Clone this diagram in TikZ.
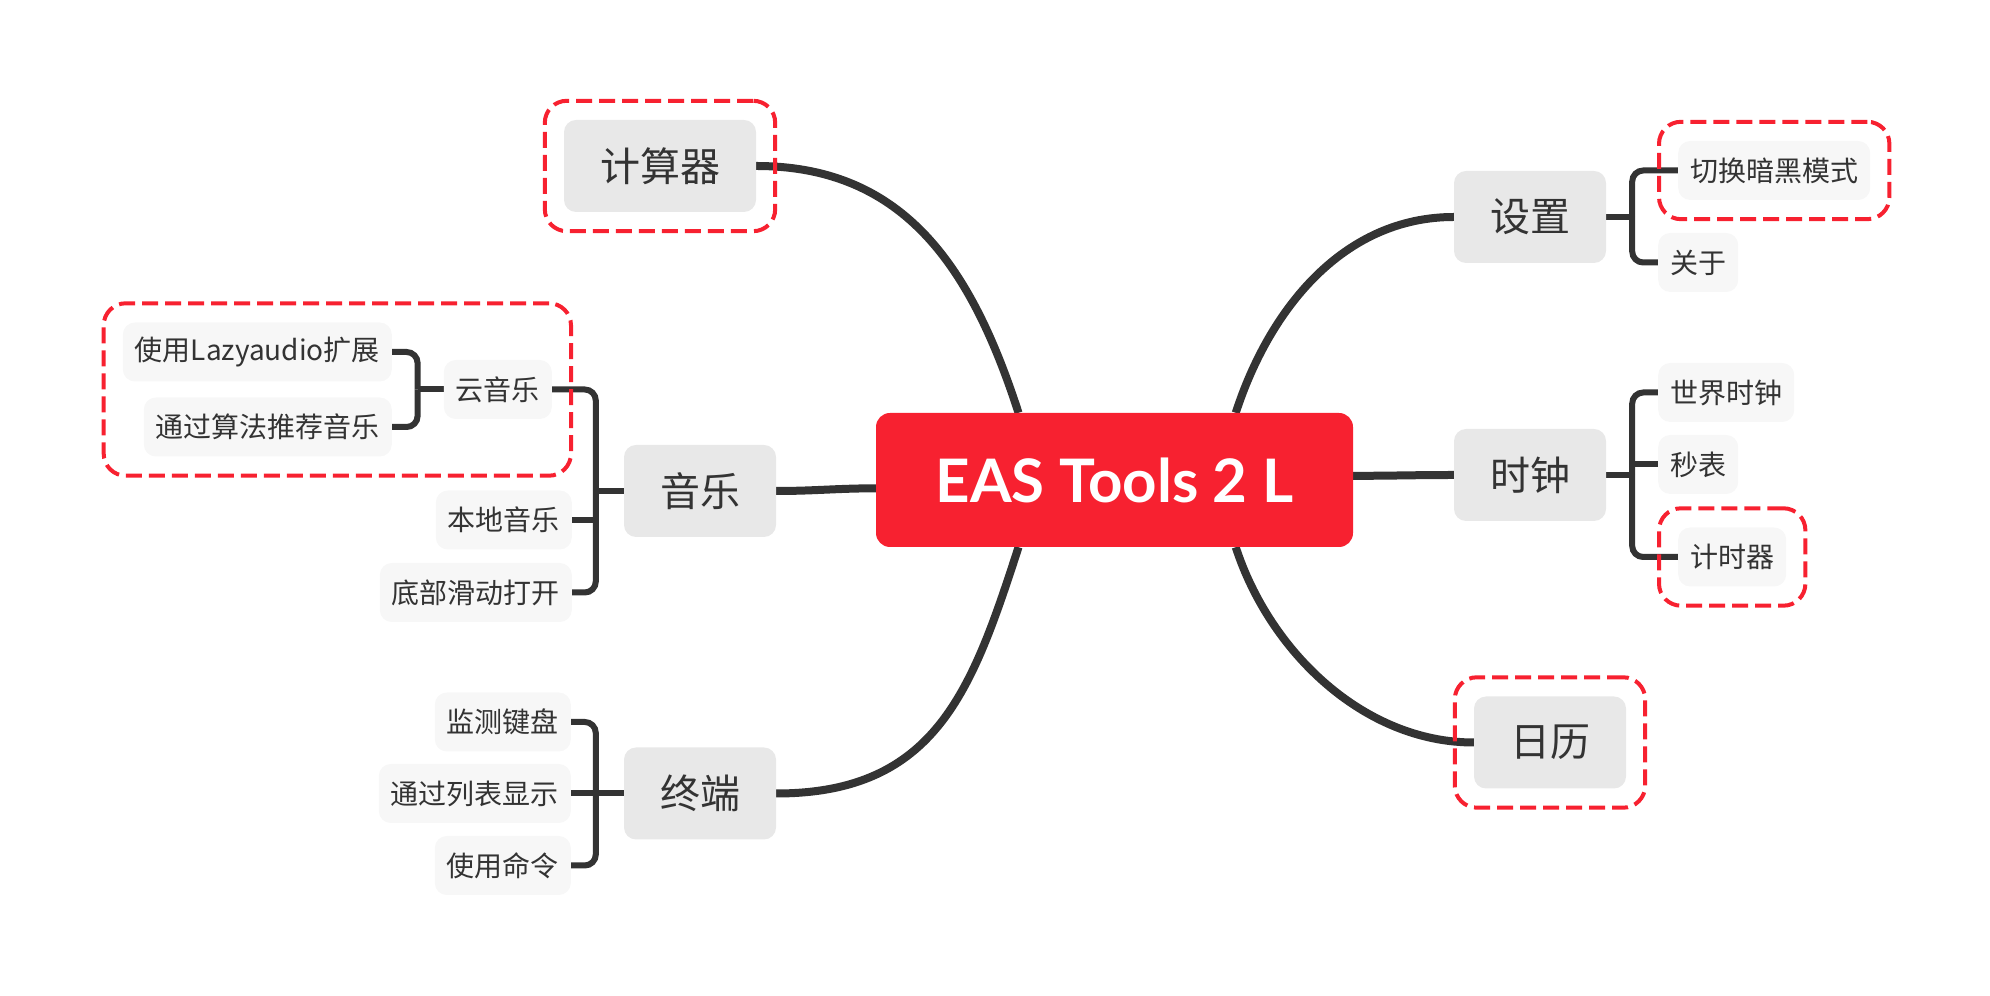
\documentclass[tikz,border=0pt]{standalone}
\usepackage{fontspec}
\setmainfont{Noto Sans CJK SC}
\newfontfamily\titlefont{Lato}
\usepackage{xcolor}
\usetikzlibrary{positioning, fit, backgrounds}

\definecolor{easred}{HTML}{F72130}
\definecolor{linegray}{HTML}{333333}
\definecolor{topicgray}{HTML}{E8E8E8}
\definecolor{subgray}{HTML}{F7F7F7}

\begin{document}
\begin{tikzpicture}[x=1pt, y=1pt,
  root/.style={fill=easred, text=white, rounded corners=14pt,
    minimum width=477pt, minimum height=134pt,
    font=\titlefont\bfseries\fontsize{60}{66}\selectfont},
  topic/.style={fill=topicgray, text=linegray, rounded corners=12pt,
    minimum height=92pt, inner xsep=36pt, font=\fontsize{40}{46}\selectfont},
  subtopic/.style={fill=subgray, text=linegray, rounded corners=12pt,
    minimum height=59pt, inner xsep=12pt, font=\fontsize{28}{32}\selectfont},
  branch/.style={draw=linegray, line width=8pt},
  bracket/.style={draw=linegray, line width=6pt, rounded corners=11pt},
  boundary/.style={draw=easred, line width=4pt, dash pattern=on 16pt off 7pt,
    rounded corners=22pt, inner sep=19pt}]
\useasboundingbox (0,0) rectangle (1990,996);

% Central topic
\node[root] (main) at (1114.5,516) {EAS Tools 2 L};

% Main topics
\node[topic] (calc) at (660,830) {计算器};
\node[topic] (music) at (700,505) {音乐};
\node[topic] (term) at (700,202.5) {终端};
\node[topic] (settings) at (1530,779) {设置};
\node[topic] (clock) at (1530,521) {时钟};
\node[topic] (calendar) at (1550,253.5) {日历};

% Subtopics, right side
\node[subtopic, anchor=west] (dark) at (1678,825.5) {切换暗黑模式};
\node[subtopic, anchor=west] (about) at (1658,733.5) {关于};
\node[subtopic, anchor=west] (world) at (1658,603.5) {世界时钟};
\node[subtopic, anchor=west] (stopw) at (1658,531.5) {秒表};
\node[subtopic, anchor=west] (timer) at (1678,439) {计时器};

% Subtopics, left side
\node[subtopic, anchor=east] (cloud) at (552,606.5) {云音乐};
\node[subtopic, anchor=east] (lazy) at (392,644) {使用Lazyaudio扩展};
\node[subtopic, anchor=east] (recomm) at (392,569) {通过算法推荐音乐};
\node[subtopic, anchor=east] (local) at (572,476) {本地音乐};
\node[subtopic, anchor=east] (slide) at (572,403.5) {底部滑动打开};
\node[subtopic, anchor=east] (kbd) at (571,274) {监测键盘};
\node[subtopic, anchor=east] (list) at (571,202.5) {通过列表显示};
\node[subtopic, anchor=east] (cmd) at (571,130.5) {使用命令};

\begin{scope}[on background layer]
% Branches from the central topic
\draw[branch] (main.145) .. controls +(108:150) and +(0:150) .. (calc.east);
\draw[branch] (main.29) .. controls +(72:110) and +(180:110) .. (settings.west);
\draw[branch] (main.215) .. controls +(252:150) and +(0:160) .. (term.east);
\draw[branch] (main.331) .. controls +(288:110) and +(180:110) .. (calendar.west);
\draw[branch] (main.182) to[out=180, in=0] (music.east);
\draw[branch] (main.1) to[out=0, in=180] (clock.west);

% Brackets: settings
\draw[bracket] (settings.east) -- ++(26,0) coordinate (setj);
\draw[bracket] (dark.west) -| (setj);
\draw[bracket] (about.west) -| (setj);

% Brackets: clock
\draw[bracket] (clock.east) -- ++(26,0) coordinate (clockj);
\draw[bracket] (world.west) -| (clockj);
\draw[bracket] (timer.west) -| (clockj);
\draw[bracket] (stopw.west) -- (stopw.west -| clockj);

% Brackets: music
\draw[bracket] (music.west) -- ++(-28,0) coordinate (musicj);
\draw[bracket] (cloud.east) -| (musicj);
\draw[bracket] (slide.east) -| (musicj);
\draw[bracket] (local.east) -- (local.east -| musicj);

% Brackets: cloud music
\draw[bracket] (cloud.west) -- ++(-26,0) coordinate (cloudj);
\draw[bracket] (lazy.east) -| (cloudj);
\draw[bracket] (recomm.east) -| (cloudj);

% Brackets: terminal
\draw[bracket] (term.west) -- ++(-28,0) coordinate (termj);
\draw[bracket] (kbd.east) -| (termj);
\draw[bracket] (cmd.east) -| (termj);
\draw[bracket] (list.east) -- (list.east -| termj);
\end{scope}

% Dashed boundaries
\node[boundary, fit=(calc)] (calcb) {};
\node[boundary, fit=(cloud)(lazy)(recomm)] (cloudb) {};
\node[boundary, fit=(dark)] (darkb) {};
\node[boundary, fit=(timer)] (timerb) {};
\node[boundary, fit=(calendar)] (calb) {};
\end{tikzpicture}
\end{document}
